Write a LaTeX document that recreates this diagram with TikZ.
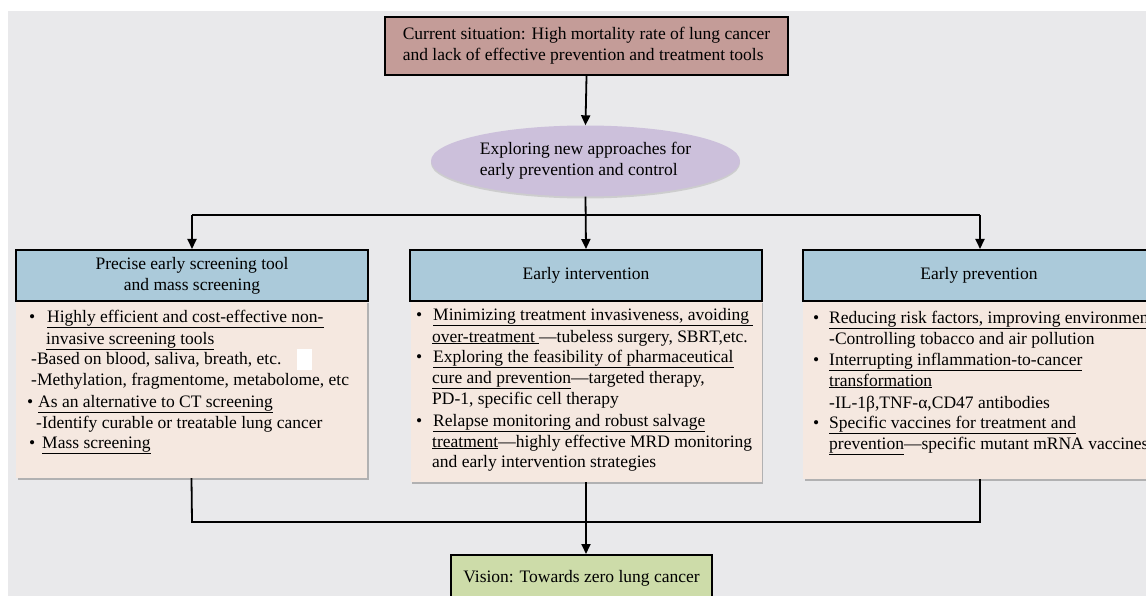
\documentclass[tikz,border=0pt]{standalone}
\usepackage{fontspec}
\setmainfont{Liberation Serif}
\usetikzlibrary{arrows.meta,shapes.geometric,shadows}
\definecolor{bgc}{HTML}{E9E9EB}
\definecolor{topc}{HTML}{C49C98}
\definecolor{ellc}{HTML}{CCC0DB}
\definecolor{hdrc}{HTML}{ABCADA}
\definecolor{bodc}{HTML}{F5E8E0}
\definecolor{visc}{HTML}{CDDCA9}
\newcommand{\bodyfont}{\fontsize{17.5}{21}\selectfont}
\begin{document}
\begin{tikzpicture}[x=1pt,y=-1pt,
  font=\bodyfont,
  hdr/.style={draw=black, line width=2pt, fill=hdrc, minimum width=352pt, minimum height=51pt, inner sep=0pt, align=center},
  bodybox/.style={fill=bodc, minimum width=351pt, inner sep=0pt, drop shadow={shadow xshift=1.5pt, shadow yshift=-2pt, fill=black!45, opacity=0.6}},
  ln/.style={anchor=base west, inner sep=0pt},
  bul/.style={anchor=base west, inner sep=0pt},
  conn/.style={line width=1.8pt},
  arr/.style={line width=1.8pt, -{Triangle[length=10pt,width=9pt]}},
]
\useasboundingbox (0,0) rectangle (1146,596);
\begin{scope}
\clip (0,0) rectangle (1146,596);
\fill[white] (0,0) rectangle (1146,596);
\fill[bgc] (8,11) rectangle (1146,596);

% top box
\node[draw=black, line width=2.2pt, fill=topc, minimum width=403pt, minimum height=58pt,
  inner sep=0pt, align=left, drop shadow={shadow xshift=1pt, shadow yshift=-1.5pt, fill=black!40, opacity=0.6}]
  (top) at (586.5,46) {Current situation: High mortality rate of lung cancer\\and lack of effective prevention and treatment tools};

% ellipse
\node[ellipse, fill=ellc, minimum width=309pt, minimum height=71pt, inner sep=0pt, align=left,
  drop shadow={shadow xshift=0pt, shadow yshift=-2pt, fill=black!30, opacity=0.5}]
  (explore) at (585.5,161) {Exploring new approaches for\\early prevention and control};

% body boxes
\node[bodybox, minimum height=177pt] (b1) at (191.5,389.5) {};
\node[bodybox, minimum height=181pt] (b2) at (586,391.5) {};
\node[bodybox, minimum height=178pt, minimum width=352pt] (b3) at (979,390) {};

% headers
\node[hdr] (h1) at (192,275.5) {Precise early screening tool\\and mass screening};
\node[hdr] (h2) at (586,275.5) {Early intervention};
\node[hdr] (h3) at (979,275.5) {Early prevention};

% vision
\node[draw=black, line width=2pt, fill=visc, minimum width=261pt, minimum height=46pt, inner sep=0pt]
  (vision) at (581.5,578) {Vision: Towards zero lung cancer};

% connectors
\coordinate (jL) at (192,215);
\coordinate (jM) at (586,215);
\coordinate (jR) at (980,215);
\coordinate (kL) at (192,522);
\coordinate (kR) at (980,522);
\draw[arr] (top.south) -- (explore.north);
\draw[conn] (jL) -- (jR);
\draw[arr] (explore.south) -- (h2.north);
\draw[arr] (jL) -- (h1.north);
\draw[arr] (jR) -- (jR |- h3.north);
\draw[conn] (b1.south) -- (kL) -- (kR) -- (kR |- b3.south);
\draw[arr] (b2.south) -- (b2.south |- vision.north);

% left body text
\node[bul] (b1a) at (29,322) {•};
\node[ln] (t1a) at (47,322) {\underline{Highly efficient and cost-effective non-}};
\node[ln] (t1b) at (46,344) {\underline{invasive screening tools}};
\node[ln] (t1c) at (31,364) {-Based on blood, saliva, breath, etc.};
\node[fill=white, minimum width=15pt, minimum height=21pt, inner sep=0pt] (wb) at (304.5,359.5) {};
\node[ln] (t1d) at (31,385) {-Methylation, fragmentome, metabolome, etc};
\node[bul] (b1b) at (27,407) {•};
\node[ln] (t1e) at (38,407) {\underline{As an alternative to CT screening}};
\node[ln] (t1f) at (36,428) {-Identify curable or treatable lung cancer};
\node[bul] (b1c) at (29,448) {•};
\node[ln] (t1g) at (42,448) {\underline{Mass screening}};

% middle body text
\node[bul] (b2a) at (416,320) {•};
\node[ln] (t2a) at (433,320) {\underline{Minimizing treatment invasiveness, avoiding~}};
\node[ln] (t2b) at (432,342) {\underline{over-treatment~}---tubeless surgery, SBRT,etc.};
\node[bul] (b2b) at (416,362) {•};
\node[ln] (t2c) at (433,362) {\underline{Exploring the feasibility of pharmaceutical}};
\node[ln] (t2d) at (432,383) {\underline{cure and prevention}---targeted therapy,};
\node[ln] (t2e) at (432,404) {PD-1, specific cell therapy};
\node[bul] (b2c) at (416,426) {•};
\node[ln] (t2f) at (433,426) {\underline{Relapse monitoring and robust salvage}};
\node[ln] (t2g) at (432,447) {\underline{treatment}---highly effective MRD monitoring};
\node[ln] (t2h) at (432,467) {and early intervention strategies};

% right body text
\node[bul] (b3a) at (813,323) {•};
\node[ln] (t3a) at (829,323) {\underline{Reducing risk factors, improving environment}};
\node[ln] (t3b) at (829,344) {-Controlling tobacco and air pollution};
\node[bul] (b3b) at (813,365) {•};
\node[ln] (t3c) at (829,365) {\underline{Interrupting inflammation-to-cancer}};
\node[ln] (t3d) at (829,386) {\underline{transformation}};
\node[ln] (t3e) at (829,408) {-IL-1β,TNF-α,CD47 antibodies};
\node[bul] (b3c) at (813,428) {•};
\node[ln] (t3f) at (829,428) {\underline{Specific vaccines for treatment and}};
\node[ln] (t3g) at (829,449) {\underline{prevention}---specific mutant mRNA vaccines};
\end{scope}
\end{tikzpicture}
\end{document}
